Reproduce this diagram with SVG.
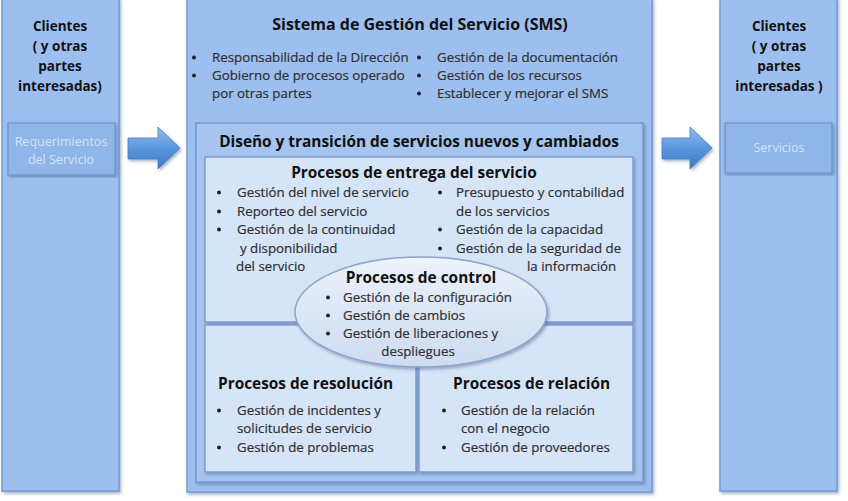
<svg xmlns="http://www.w3.org/2000/svg" width="848" height="501" viewBox="0 0 848 501">
<defs>
<filter id="sh" x="-5%" y="-5%" width="110%" height="110%">
<feDropShadow dx="1.5" dy="2" stdDeviation="1.5" flood-color="#3a5a8a" flood-opacity="0.45"/>
</filter>
<linearGradient id="arr" x1="0" y1="0" x2="0" y2="1">
<stop offset="0" stop-color="#8fbdf0"/>
<stop offset="0.5" stop-color="#5b97de"/>
<stop offset="1" stop-color="#3f78c4"/>
</linearGradient>
<linearGradient id="eg" x1="0" y1="0" x2="0" y2="1">
<stop offset="0" stop-color="#eef3fb"/>
<stop offset="0.5" stop-color="#dbe6f6"/>
<stop offset="1" stop-color="#cfdcf0"/>
</linearGradient>
<style>
.col{fill:#9cbfef;stroke:#7699cf;stroke-width:1.5}
.sub{fill:#8fb5e9;stroke:#7699cf;stroke-width:1.5}
.outer{fill:#9cbfef;stroke:#7699cf;stroke-width:1.5}
.mid{fill:#a5c5f0;stroke:#7699cf;stroke-width:1.5}
.light{fill:#d6e4f8;stroke:#7f9ccc;stroke-width:1.5}
.ell{fill:url(#eg);stroke:#8ea5c9;stroke-width:1.5}
.bul circle{fill:#222}
text{font-family:"Open Sans","Liberation Sans",sans-serif;fill:#2a2a2a}
.t{font-weight:bold;font-size:13.5px;fill:#111;text-anchor:middle}
.h{font-weight:bold;font-size:15.4px;fill:#111}
.hh{font-weight:bold;font-size:16px;fill:#111}
.b{font-size:13.3px;fill:#2f2f2f;stroke:#2f2f2f;stroke-width:0.2}
.w{font-size:12.5px;fill:#d4e4f8;text-anchor:middle}
</style>
</defs>

<g id="clientes-izq">
<rect class="col" x="2" y="-2" width="117" height="493" filter="url(#sh)"/>
<text class="t" x="60" y="31">Clientes</text>
<text class="t" x="60" y="51">( y otras</text>
<text class="t" x="60" y="71">partes</text>
<text class="t" x="60" y="91">interesadas)</text>
</g>
<g id="requerimientos">
<rect class="sub" x="8" y="123" width="107" height="52" filter="url(#sh)"/>
<text class="w" x="61" y="146">Requerimientos</text>
<text class="w" x="61" y="164">del Servicio</text>
</g>

<g id="clientes-der">
<rect class="col" x="720" y="-2" width="117" height="493" filter="url(#sh)"/>
<text class="t" x="779" y="31">Clientes</text>
<text class="t" x="779" y="51">( y otras</text>
<text class="t" x="779" y="71">partes</text>
<text class="t" x="779" y="91">interesadas )</text>
</g>
<g id="servicios">
<rect class="sub" x="725" y="123" width="107" height="50" filter="url(#sh)"/>
<text class="w" x="779" y="152">Servicios</text>
</g>

<g id="connectors">
<path d="M128,138 H158 V127 L180,148 L158,169 V159 H128 Z" fill="url(#arr)" stroke="#4a7fc4" stroke-width="0.8" filter="url(#sh)"/>
<path d="M662,138 H690 V127 L712,148 L690,169 V159 H662 Z" fill="url(#arr)" stroke="#4a7fc4" stroke-width="0.8" filter="url(#sh)"/>
</g>

<g id="sms">
<rect class="outer" x="187" y="-2" width="465" height="494" filter="url(#sh)"/>
<text class="hh" x="420" y="30" text-anchor="middle">Sistema de Gestión del Servicio (SMS)</text>
<g class="bul">
<circle cx="194" cy="57.5" r="2"/><circle cx="194" cy="75.5" r="2"/>
<circle cx="419" cy="57.5" r="2"/><circle cx="419" cy="75.5" r="2"/><circle cx="419" cy="93.5" r="2"/>
</g>
<text class="b" x="212" y="62">Responsabilidad de la Dirección</text>
<text class="b" x="212" y="80">Gobierno de procesos operado</text>
<text class="b" x="212" y="98">por otras partes</text>
<text class="b" x="437" y="62">Gestión de la documentación</text>
<text class="b" x="437" y="80">Gestión de los recursos</text>
<text class="b" x="437" y="98">Establecer y mejorar el  SMS</text>
</g>

<g id="diseno">
<rect class="mid" x="196" y="123" width="447" height="359" filter="url(#sh)"/>
<text class="h" x="419" y="147" text-anchor="middle">Diseño y transición de servicios nuevos y cambiados</text>
</g>

<g id="entrega">
<rect class="light" x="205" y="157" width="428" height="165" filter="url(#sh)"/>
<text class="h" x="414" y="178" text-anchor="middle">Procesos de entrega del servicio</text>
<g class="bul">
<circle cx="219" cy="192.5" r="2"/><circle cx="219" cy="211.5" r="2"/><circle cx="219" cy="229.5" r="2"/>
<circle cx="440" cy="192.5" r="2"/><circle cx="440" cy="229.5" r="2"/><circle cx="440" cy="248.5" r="2"/>
</g>
<text class="b" x="237" y="197">Gestión del nivel de servicio</text>
<text class="b" x="237" y="216">Reporteo del servicio</text>
<text class="b" x="237" y="234">Gestión de la continuidad</text>
<text class="b" x="240" y="253">y disponibilidad</text>
<text class="b" x="236" y="271">del servicio</text>
<text class="b" x="456" y="197">Presupuesto y contabilidad</text>
<text class="b" x="456" y="216">de los servicios</text>
<text class="b" x="456" y="234">Gestión de la capacidad</text>
<text class="b" x="456" y="253">Gestión de la seguridad de</text>
<text class="b" x="527" y="271">la información</text>
</g>

<g id="resolucion">
<rect class="light" x="205" y="325" width="211" height="147" filter="url(#sh)"/>
<text class="h" x="218" y="389">Procesos de resolución</text>
<g class="bul">
<circle cx="219" cy="410.5" r="2"/><circle cx="219" cy="447.5" r="2"/>
</g>
<text class="b" x="237" y="415">Gestión de incidentes y</text>
<text class="b" x="237" y="433">solicitudes de servicio</text>
<text class="b" x="237" y="452">Gestión de problemas</text>
</g>

<g id="relacion">
<rect class="light" x="419" y="325" width="214" height="147" filter="url(#sh)"/>
<text class="h" x="453" y="389">Procesos de relación</text>
<g class="bul">
<circle cx="444" cy="410.5" r="2"/><circle cx="444" cy="447.5" r="2"/>
</g>
<text class="b" x="461" y="415">Gestión de la relación</text>
<text class="b" x="461" y="433">con el negocio</text>
<text class="b" x="461" y="452">Gestión de proveedores</text>
</g>

<g id="control">
<ellipse class="ell" cx="421" cy="312" rx="126" ry="55" filter="url(#sh)"/>
<text class="h" x="421" y="283" text-anchor="middle">Procesos de control</text>
<g class="bul">
<circle cx="328" cy="297.5" r="2"/><circle cx="328" cy="315.5" r="2"/><circle cx="328" cy="333.5" r="2"/>
</g>
<text class="b" x="343" y="302">Gestión de la configuración</text>
<text class="b" x="343" y="320">Gestión de cambios</text>
<text class="b" x="343" y="338">Gestión de liberaciones y</text>
<text class="b" x="418" y="356" text-anchor="middle">despliegues</text>
</g>
</svg>
